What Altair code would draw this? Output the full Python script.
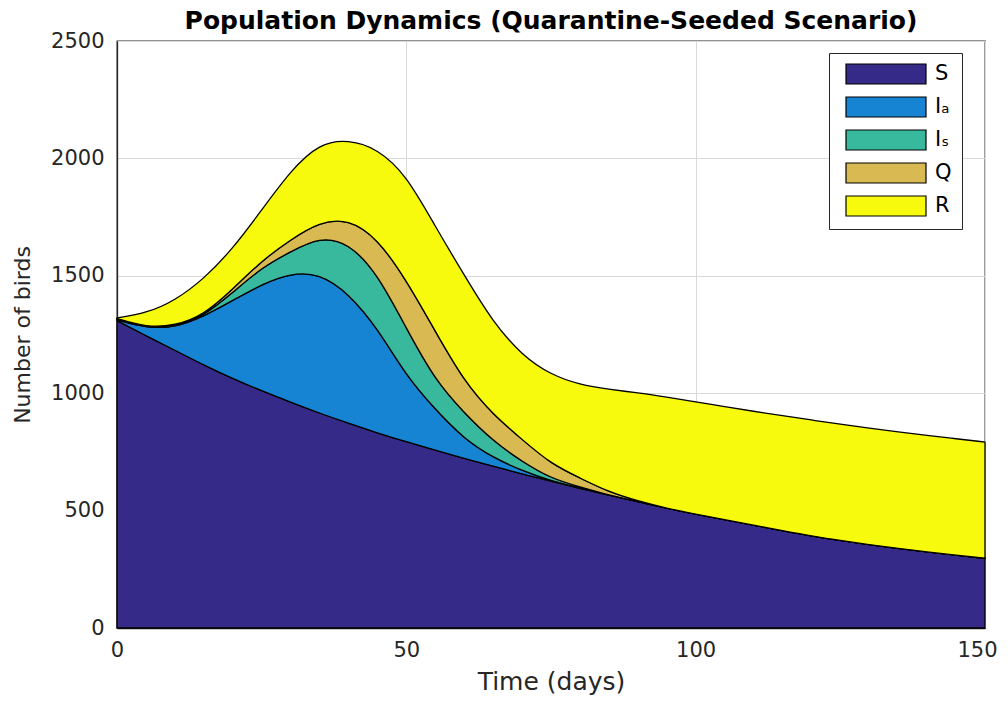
import altair as alt
import pandas as pd

# Time axis (days)
days = [0, 5, 10, 15, 20, 25, 30, 35, 40, 45, 50, 55, 60, 65, 70, 75,
        80, 85, 90, 95, 100, 105, 110, 115, 120, 125, 130, 135, 140, 145, 150]

# Compartment sizes (number of birds)
S = [1309, 1245, 1183, 1120, 1062, 1010, 962, 915, 872, 831, 793, 757, 722, 690, 656, 625,
     595, 566, 539, 510, 485, 461, 438, 415, 392, 373, 355, 339, 324, 310, 297]
Ia = [4, 33, 96, 207, 333, 454, 549, 595, 554, 447, 280, 174, 83, 36, 14, 1,
      1, 0, 0, 0, 0, 0, 0, 0, 0, 0, 0, 0, 0, 0, 0]
Is_ = [2, 1, 4, 1, 34, 71, 92, 155, 216, 232, 203, 123, 111, 70, 39, 11,
       5, 0, 0, 0, 0, 0, 0, 0, 0, 0, 0, 0, 0, 0, 0]
Q = [3, 2, 4, 5, 14, 29, 51, 64, 100, 150, 206, 210, 134, 113, 94, 62,
     38, 13, 2, 0, 0, 0, 0, 0, 0, 0, 0, 0, 0, 0, 0]
R = [3, 59, 107, 153, 172, 216, 294, 336, 338, 382, 448, 446, 453, 392, 358, 379,
     397, 437, 461, 473, 478, 482, 485, 489, 494, 495, 496, 496, 496, 496, 495]

names = ["S", "I\u2090", "I\u209B", "Q", "R"]
colors = ["#352A87", "#1784D3", "#38B99E", "#D9B951", "#F8FA0D"]

rows = []
for k, (nm, vals) in enumerate(zip(names, [S, Ia, Is_, Q, R])):
    for t, v in zip(days, vals):
        rows.append({"t": t, "v": v, "comp": nm, "k": k})
df = pd.DataFrame(rows)

FONT = "DejaVu Sans"

chart = alt.Chart(df).mark_area(
    interpolate="basis", stroke="black", strokeWidth=1.3, strokeJoin="round", opacity=1
).encode(
    x=alt.X("t:Q", scale=alt.Scale(domain=[0, 150], nice=False),
            axis=alt.Axis(values=[0, 50, 100, 150], title="Time (days)", format="d",
                          labelFlush=False, ticks=False, labelPadding=11,
                          labelOffset={"condition": {"test": "datum.value == 150", "value": -8},
                                       "value": 0},
                          titlePadding=9)),
    y=alt.Y("v:Q", stack="zero", scale=alt.Scale(domain=[0, 2500], nice=False),
            axis=alt.Axis(values=[0, 500, 1000, 1500, 2000, 2500], title="Number of birds",
                          format="d", ticks=False, labelPadding=13, titlePadding=16)),
    color=alt.Color("comp:N", scale=alt.Scale(domain=names, range=colors),
                    legend=alt.Legend(orient="none", legendX=712, legendY=12, title=None,
                                      symbolType="M-4,-1H4V1H-4Z", symbolSize=400,
                                      symbolStrokeColor="black", symbolStrokeWidth=1.2,
                                      symbolOpacity=1, symbolOffset=36,
                                      labelFont=FONT, labelFontSize=21, labelColor="black",
                                      labelOffset=38, fillColor="white",
                                      strokeColor="#262626", padding=10, rowPadding=7)),
    order=alt.Order("k:Q", sort="ascending"),
).properties(
    width=868, height=587,
    background="white",
    title=alt.TitleParams("Population Dynamics (Quarantine-Seeded Scenario)", font=FONT,
                          fontSize=25, fontWeight="bold", color="black", offset=-4,
                          anchor="middle", frame="group"),
    autosize=alt.AutoSizeParams(type="none"),
    padding={"left": 109, "top": 33, "right": 15, "bottom": 68},
).configure_axis(
    labelFont=FONT, labelFontSize=21, labelColor="#262626",
    titleFont=FONT, titleFontSize=25, titleColor="#262626", titleFontWeight="normal",
    domainColor="#262626", domainWidth=1.3,
    grid=True, gridColor="#d9d9d9", gridWidth=1,
).configure_axisY(
    titleFontSize=22,
).configure_view(
    stroke="#262626", strokeWidth=1.3,
)

chart.save("out.html", embed_options={"renderer": "svg", "actions": False})
